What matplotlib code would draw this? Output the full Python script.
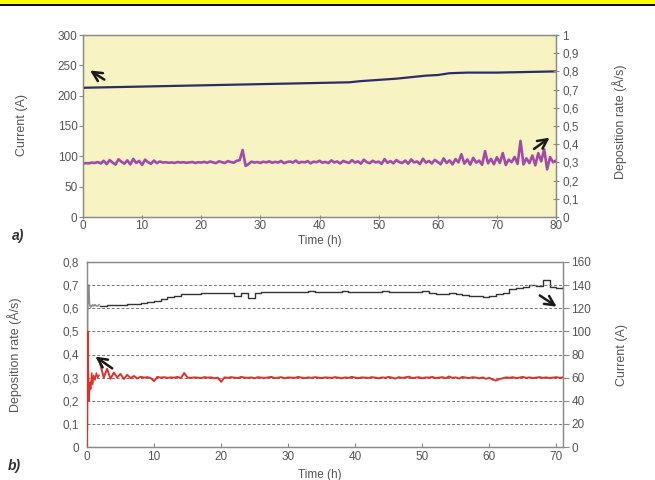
import numpy as np
import matplotlib
matplotlib.use("Agg")
import matplotlib.pyplot as plt
from matplotlib.patches import Rectangle
from matplotlib.ticker import FuncFormatter

# ---------------------------------------------------------------
# data
# ---------------------------------------------------------------
# panel a: current (A, left axis)
cur_a_time = [0, 10, 20, 30, 40, 45, 47, 50, 53, 55, 58, 60, 62, 65, 70, 75, 80]
cur_a_val = [213, 215, 217, 219, 221, 222, 224, 226, 228, 230, 233, 234, 237, 238, 238, 239, 240]

# panel a: deposition rate (A/s, right axis), one value every 0.5 h from 0 to 80 h
rate_a_val = [
    0.293, 0.296, 0.295, 0.299, 0.297, 0.302, 0.294, 0.309, 0.291, 0.313,
    0.299, 0.288, 0.317, 0.304, 0.293, 0.311, 0.289, 0.319, 0.297, 0.308,
    0.286, 0.315, 0.301, 0.292, 0.310, 0.296, 0.305, 0.299, 0.301, 0.298,
    0.300, 0.297, 0.302, 0.299, 0.301, 0.298, 0.300, 0.302, 0.297, 0.301,
    0.299, 0.303, 0.298, 0.305, 0.300, 0.296, 0.306, 0.301, 0.297, 0.307,
    0.302, 0.298, 0.309, 0.312, 0.368, 0.281, 0.291, 0.304, 0.299, 0.302,
    0.297, 0.304, 0.300, 0.306, 0.298, 0.303, 0.299, 0.308, 0.296, 0.302,
    0.305, 0.299, 0.310, 0.297, 0.303, 0.300, 0.307, 0.295, 0.304, 0.301,
    0.309, 0.298, 0.303, 0.296, 0.311, 0.300, 0.305, 0.294, 0.308, 0.302,
    0.297, 0.312, 0.299, 0.306, 0.293, 0.315, 0.301, 0.296, 0.309, 0.300,
    0.304, 0.292, 0.318, 0.298, 0.307, 0.295, 0.313, 0.301, 0.297, 0.310,
    0.293, 0.316, 0.300, 0.305, 0.291, 0.320, 0.299, 0.308, 0.294, 0.314,
    0.302, 0.290, 0.322, 0.297, 0.311, 0.289, 0.318, 0.300, 0.345, 0.293,
    0.316, 0.288, 0.325, 0.299, 0.310, 0.287, 0.362, 0.295, 0.319, 0.290,
    0.328, 0.297, 0.351, 0.286, 0.315, 0.301, 0.330, 0.292, 0.418, 0.289,
    0.322, 0.296, 0.338, 0.284, 0.351, 0.306, 0.372, 0.262, 0.329, 0.301, 0.310,
]

# panel b: start-up transient
start_time = [0, 0.05, 0.12, 0.2, 0.28, 0.35, 0.45, 0.55, 0.7, 0.85, 1.0, 1.2, 1.4, 1.6, 1.8]
start_rate = [0.0, 0.08, 0.50, 0.35, 0.20, 0.23, 0.28, 0.25, 0.32, 0.27, 0.31, 0.29, 0.32, 0.30, 0.31]
start_cur = [0, 90, 140, 140, 140, 124, 122, 121, 122, 123, 122, 123, 122, 122, 123]

# panel b: deposition rate, every 0.5 h from 2 to 71 h
rate_b_val = [
    0.355, 0.300, 0.338, 0.295, 0.322, 0.301, 0.316, 0.294, 0.312, 0.298,
    0.307, 0.296, 0.304, 0.300, 0.302, 0.298, 0.285, 0.303, 0.300, 0.302,
    0.299, 0.301, 0.300, 0.303, 0.298, 0.320, 0.300, 0.299, 0.301, 0.300,
    0.298, 0.302, 0.300, 0.301, 0.297, 0.300, 0.282, 0.301, 0.299, 0.302,
    0.300, 0.298, 0.303, 0.300, 0.299, 0.301, 0.297, 0.302, 0.300, 0.299,
    0.301, 0.303, 0.298, 0.300, 0.302, 0.297, 0.301, 0.300, 0.299, 0.303,
    0.300, 0.298, 0.301, 0.299, 0.302, 0.300, 0.298, 0.301, 0.300, 0.299,
    0.302, 0.300, 0.297, 0.301, 0.299, 0.303, 0.300, 0.298, 0.301, 0.300,
    0.299, 0.302, 0.300, 0.297, 0.301, 0.299, 0.303, 0.300, 0.296, 0.302,
    0.299, 0.301, 0.304, 0.298, 0.300, 0.302, 0.297, 0.301, 0.300, 0.303,
    0.298, 0.300, 0.302, 0.297, 0.305, 0.299, 0.301, 0.296, 0.303, 0.300,
    0.298, 0.302, 0.300, 0.297, 0.301, 0.295, 0.299, 0.292, 0.287, 0.294,
    0.297, 0.301, 0.299, 0.302, 0.298, 0.300, 0.303, 0.299, 0.301, 0.298,
    0.300, 0.302, 0.299, 0.301, 0.298, 0.300, 0.302, 0.299, 0.301,
]

# panel b: current (A, right axis), every 1 h from 2 to 71 h
cur_b_val = [
    122, 122.4, 122.8, 123, 123.4, 124, 124.4, 125.6, 126.4, 128,
    130, 131, 132, 132.4, 132.6, 132.8, 133, 133, 133.2, 133.4,
    131, 133, 129, 133.6, 134.4, 134, 134, 134.4, 134.4, 134.2,
    134.4, 134.6, 134.4, 134.4, 134.2, 134.4, 134.6, 134.4, 134.4, 134.2,
    134.4, 134.4, 134.6, 134.4, 134.4, 134.2, 134.4, 134.4, 134.6, 133.6,
    132.6, 132.4, 133, 132, 131.6, 131, 130.4, 130, 131, 132,
    133.6, 136.6, 137.6, 138.4, 140, 139.6, 144.4, 138, 137.6, 138,
]

left_ticks_a = [0, 50, 100, 150, 200, 250, 300]
right_ticks_a = [0, 0.1, 0.2, 0.3, 0.4, 0.5, 0.6, 0.7, 0.8, 0.9, 1]
x_ticks_a = [0, 10, 20, 30, 40, 50, 60, 70, 80]
left_ticks_b = [0, 0.1, 0.2, 0.3, 0.4, 0.5, 0.6, 0.7, 0.8]
right_ticks_b = [0, 20, 40, 60, 80, 100, 120, 140, 160]
x_ticks_b = [0, 10, 20, 30, 40, 50, 60, 70]

# ---------------------------------------------------------------
# style
# ---------------------------------------------------------------
plt.rcParams["font.family"] = ["Liberation Sans", "DejaVu Sans"]
TXT = "#555555"
SPINE = "#8a8a8a"
narrow = ["Liberation Sans Narrow", "Liberation Sans", "DejaVu Sans"]
ARROW = dict(arrowstyle="->", lw=1.8, color="#1a1a1a", mutation_scale=17)


def comma(v, pos):
    return ("%g" % v).replace(".", ",")


def style(ax):
    for sp in ax.spines.values():
        sp.set_color(SPINE)
        sp.set_linewidth(0.9)
    ax.tick_params(colors=SPINE, labelcolor=TXT, labelsize=8.5, length=3, width=0.8)


fig = plt.figure(figsize=(6.55, 4.8), dpi=100, facecolor="white")

# yellow header band
fig.add_artist(Rectangle((0, 1 - 4 / 480), 1, 4 / 480, transform=fig.transFigure,
                         facecolor="#ffff00", edgecolor="none"))
fig.add_artist(Rectangle((0, 1 - 6 / 480), 1, 2 / 480, transform=fig.transFigure,
                         facecolor="#111111", edgecolor="none"))

# ---------------------------------------------------------------
# panel a
# ---------------------------------------------------------------
ax1 = fig.add_axes([83 / 655, 263 / 480, 473 / 655, 182 / 480])
ax1.set_facecolor("#f7f3c2")
ax1r = ax1.twinx()

ax1.plot(cur_a_time, cur_a_val, color="#2e2c68", lw=1.6, zorder=3)
t_rate_a = np.linspace(0, 80, len(rate_a_val))
ax1r.plot(t_rate_a, rate_a_val, color="#a24aa8", lw=1.9)

ax1.set_xlim(0, 80)
ax1.set_ylim(0, 300)
ax1r.set_ylim(0, 1)
ax1.set_xticks(x_ticks_a)
ax1.set_yticks(left_ticks_a)
ax1r.set_yticks(right_ticks_a)
ax1r.yaxis.set_major_formatter(FuncFormatter(comma))
for a in (ax1, ax1r):
    style(a)
ax1.tick_params(axis="y", direction="out", pad=1)
ax1.tick_params(axis="x", direction="inout", pad=1)
ax1r.tick_params(axis="y", direction="inout", length=5, pad=2)

ax1.annotate("", xy=(0.8, 244), xytext=(4.0, 224), arrowprops=ARROW)
ax1r.annotate("", xy=(79.3, 0.445), xytext=(75.9, 0.365), arrowprops=ARROW)

fig.text(320 / 655, 1 - 241 / 480, "Time (h)", ha="center", va="center", color=TXT, fontsize=8.5)
fig.text(22 / 655, 1 - 125 / 480, "Current (A)", rotation=90, ha="center", va="center",
         color=TXT, fontsize=9, family=narrow)
fig.text(620 / 655, 1 - 122 / 480, "Deposition rate (Å/s)", rotation=90, ha="center", va="center",
         color=TXT, fontsize=9, family=narrow)
fig.text(12 / 655, 1 - 236 / 480, "a)", ha="left", va="center", color="#333333",
         fontsize=10, fontweight="bold", fontstyle="italic")

# ---------------------------------------------------------------
# panel b
# ---------------------------------------------------------------
ax2 = fig.add_axes([87 / 655, 33 / 480, 476 / 655, 185 / 480])
ax2r = ax2.twinx()

t_rate_b = np.linspace(2, 71, len(rate_b_val))
t_cur_b = np.linspace(2, 71, len(cur_b_val))
ax2r.plot(start_time, start_cur, color="#8c8c8c", lw=1.2)
ax2r.plot(t_cur_b, cur_b_val, color="#333333", lw=1.0, drawstyle="steps-post")
ax2.plot(start_time, start_rate, color="#e0302a", lw=1.1, zorder=3)
ax2.plot(t_rate_b, rate_b_val, color="#e0302a", lw=1.4, zorder=3)
ax2.set_zorder(ax2r.get_zorder() + 1)
ax2.patch.set_visible(False)

ax2.set_xlim(0, 71)
ax2.set_ylim(0, 0.8)
ax2r.set_ylim(0, 160)
ax2.set_xticks(x_ticks_b)
ax2.set_yticks(left_ticks_b)
ax2r.set_yticks(right_ticks_b)
ax2.yaxis.set_major_formatter(FuncFormatter(comma))
for a in (ax2, ax2r):
    style(a)
ax2.tick_params(axis="y", length=0, pad=6)
ax2.tick_params(axis="x", direction="in", length=3, pad=3)
ax2r.tick_params(axis="y", direction="out", length=4, pad=2)
for g in left_ticks_b[1:-1]:
    ax2.axhline(g, color="#777777", lw=0.7, ls=(0, (3, 2)), zorder=1)

ax2.annotate("", xy=(0.9, 0.398), xytext=(4.1, 0.333), arrowprops=ARROW)
ax2.annotate("", xy=(70.4, 0.600), xytext=(67.2, 0.662), arrowprops=ARROW)

fig.text(320 / 655, 1 - 475 / 480, "Time (h)", ha="center", va="center", color=TXT, fontsize=8.5)
fig.text(15 / 655, 1 - 355 / 480, "Deposition rate (Å/s)", rotation=90, ha="center", va="center",
         color=TXT, fontsize=9, family=narrow)
fig.text(622 / 655, 1 - 355 / 480, "Current (A)", rotation=90, ha="center", va="center",
         color=TXT, fontsize=9, family=narrow)
fig.text(8 / 655, 1 - 466 / 480, "b)", ha="left", va="center", color="#333333",
         fontsize=10, fontweight="bold", fontstyle="italic")

fig.savefig("out.png", dpi=100, facecolor="white")
